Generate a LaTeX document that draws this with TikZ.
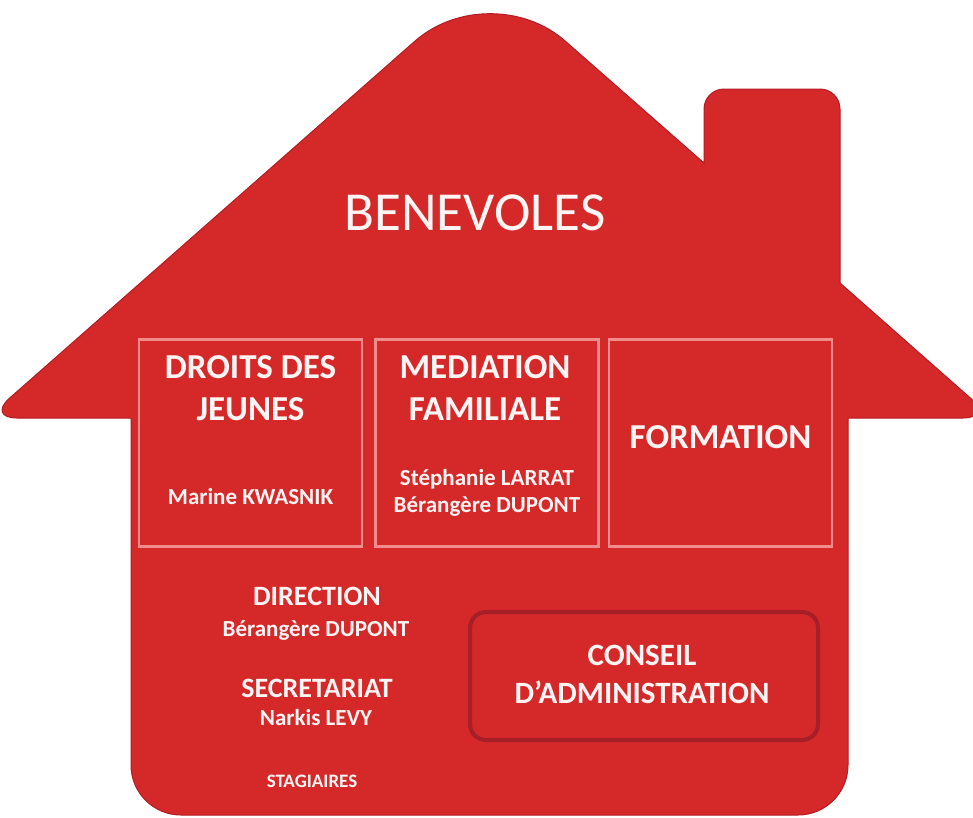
\documentclass[tikz,border=0pt]{standalone}
\usepackage{fontspec}
\setmainfont{Carlito}
\usetikzlibrary{scopes}

\definecolor{houseRed}{RGB}{213,41,41}
\definecolor{houseEdge}{RGB}{178,28,34}
\definecolor{cellLine}{RGB}{240,140,140}
\definecolor{boardLine}{RGB}{165,30,40}
\definecolor{txt}{RGB}{255,244,244}

\begin{document}
\begin{tikzpicture}[x=1pt,y=-1pt,
    cell/.style={draw=cellLine,line width=2.5pt,minimum width=223pt,minimum height=207pt,inner sep=0pt},
    title/.style={text=txt,anchor=base,align=center,font=\fontsize{35}{42}\selectfont\bfseries},
    head/.style={text=txt,anchor=base,align=center,font=\fontsize{28}{32}\selectfont\bfseries},
    person/.style={text=txt,anchor=base,align=center,font=\fontsize{23}{27}\selectfont\bfseries}]

\useasboundingbox (0,0) rectangle (973,817);

% the house
\draw[fill=houseRed,draw=houseEdge,line width=1pt] (131,418)
    [rounded corners=30pt] -- (-13,418)
    [rounded corners=100pt] -- (490,-25)
    [sharp corners] -- (704,163)
    [rounded corners=20pt] -- (704,89) -- (840,89)
    [sharp corners] -- (840,283)
    [rounded corners=30pt] -- (993,418)
    [sharp corners] -- (848,418)
    [rounded corners=50pt] -- (848,815) -- (131,815)
    [sharp corners] -- cycle;

\node[text=txt,anchor=base,font=\fontsize{55}{60}\selectfont] (benevoles) at (475,230) {BENEVOLES};

{[xshift=250.5pt] %Droits
    \node[cell] (droits) at (0,443) {};
    \node[title] (droitsT) at (0,420) {DROITS DES\\JEUNES};
    \node[person] (droitsP) at (0,504) {Marine KWASNIK};
}
{[xshift=487pt] %Mediation
    \node[cell] (mediation) at (0,443) {};
    \node[title] (mediationT) at (-2,420) {MEDIATION\\FAMILIALE};
    \node[person] (mediationP) at (0,512) {Stéphanie LARRAT\\Bérangère DUPONT};
}
{[xshift=720.5pt] %Formation
    \node[cell] (formation) at (0,443) {};
    \node[title] (formationT) at (0,448) {FORMATION};
}

{[xshift=316pt] %Direction
    \node[head] (direction) at (1,605) {DIRECTION};
    \node[person] (directionP) at (0,636) {Bérangère DUPONT};
    \node[head] (secretariat) at (1,697) {SECRETARIAT};
    \node[person] (secretariatP) at (0,725) {Narkis LEVY};
    \node[text=txt,anchor=base,font=\fontsize{19}{20}\selectfont\bfseries] (stagiaires) at (-4,787) {STAGIAIRES};
}

{[xshift=644pt] %Conseil
    \node[draw=boardLine,line width=4pt,rounded corners=16pt,minimum width=348pt,minimum height=128pt] (conseil) at (0,676) {};
    \node[head,font=\fontsize{31}{38}\selectfont\bfseries] (conseilT) at (-2,703) {CONSEIL\\D'ADMINISTRATION};
}
\end{tikzpicture}
\end{document}
